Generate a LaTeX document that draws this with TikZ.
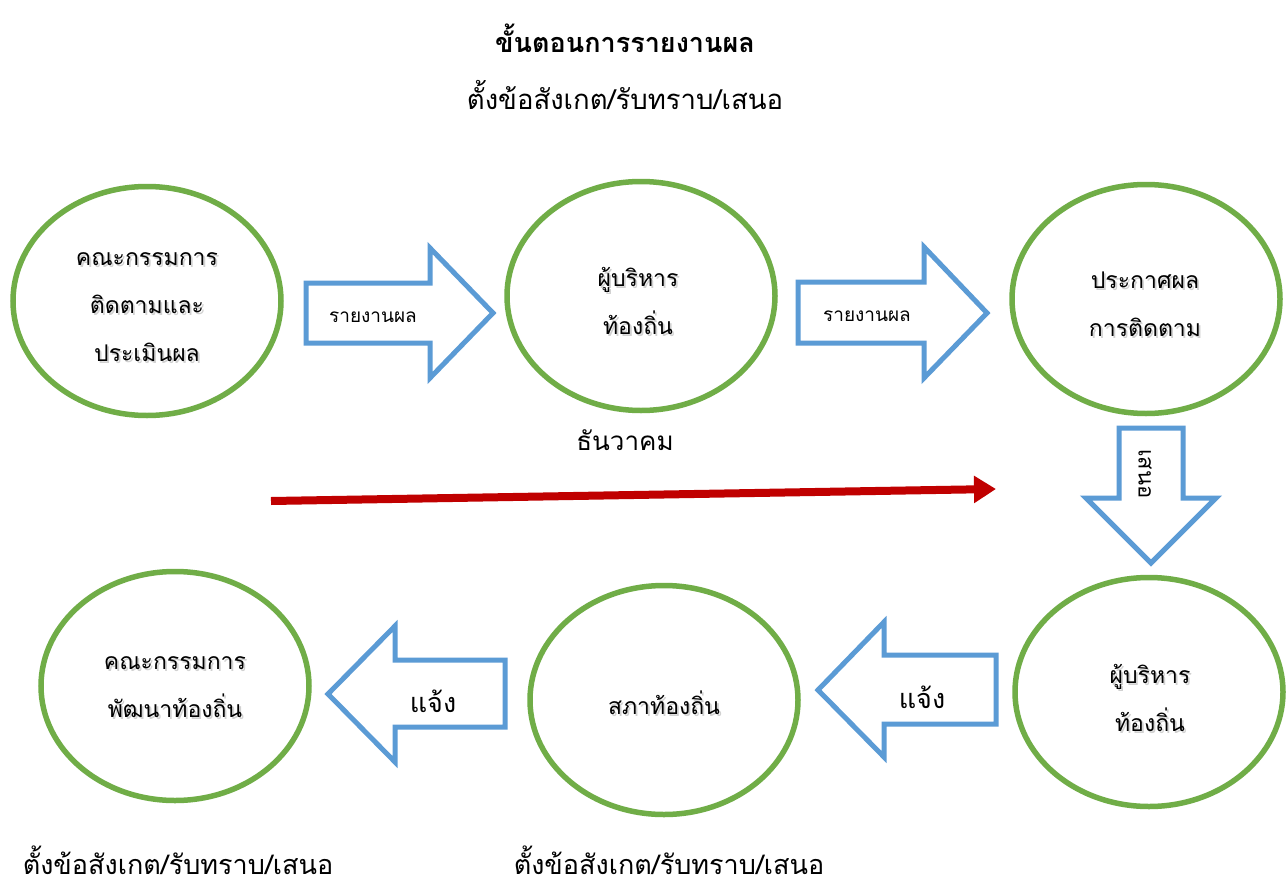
\documentclass[tikz,border=0pt]{standalone}
\usepackage{fontspec}
\setmainfont{Loma}[Script=Thai]
\usetikzlibrary{arrows.meta,calc,shapes.geometric}
\definecolor{cgreen}{HTML}{70AD47}
\definecolor{cblue}{HTML}{5B9BD5}
\definecolor{cred}{HTML}{C00000}
\newcommand\shd[1]{\leavevmode\rlap{\raisebox{-1.8pt}{\hspace{1.8pt}\textcolor{black!18}{#1}}}#1}
\begin{document}
\begin{tikzpicture}[x=1pt,y=-1pt,
  oval/.style={draw=cgreen,line width=5.5pt,ellipse,inner sep=0pt,minimum width=268pt,minimum height=229pt},
  barrow/.style={draw=cblue,line width=5pt,line join=miter,fill=white},
  ctext/.style={align=center,inner sep=0pt,font=\fontsize{23}{48}\selectfont},
  atext/.style={inner sep=0pt,font=\fontsize{19}{22}\selectfont},
  jtext/.style={inner sep=0pt,font=\fontsize{27}{30}\selectfont},
  ltext/.style={inner sep=0pt,font=\fontsize{27.5}{32}\selectfont}]
\useasboundingbox (0,0) rectangle (1287,888);
\fill[white] (0,0) rectangle (1287,888);

% titles
\node[inner sep=0pt,font=\fontsize{27}{32}\selectfont\bfseries] (title) at (625,38) {ขั้นตอนการรายงานผล};
\node[ltext] (sub) at (625,95) {ตั้งข้อสังเกต/รับทราบ/เสนอ};

% ellipses
\node[oval] (e1) at (147,301) {};
\node[oval] (e2) at (641,296) {};
\node[oval] (e3) at (1146,299) {};
\node[oval] (e4) at (1149,692) {};
\node[oval] (e5) at (664,700) {};
\node[oval] (e6) at (175,686) {};

% texts in ellipses (with soft shadow)
\node[ctext] (t1) at (147,308) {\shd{คณะกรรมการ}\\\shd{ติดตามและ}\\\shd{ประเมินผล}};
\node[ctext] (t2) at (638,302) {\shd{ผู้บริหาร}\\\shd{ท้องถิ่น}};
\node[ctext] (t3) at (1145,305) {\shd{ประกาศผล}\\\shd{การติดตาม}};
\node[ctext] (t4) at (1150,699) {\shd{ผู้บริหาร}\\\shd{ท้องถิ่น}};
\node[ctext] (t5) at (664,704) {\shd{สภาท้องถิ่น}};
\node[ctext] (t6) at (175,688) {\shd{คณะกรรมการ}\\\shd{พัฒนาท้องถิ่น}};

% block arrows
\draw[barrow] (306,283) -- (430,283) -- (430,248) -- (493,313) -- (430,378) -- (430,343) -- (306,343) -- cycle;
\node[atext] (a1) at (373,317) {รายงานผล};
\draw[barrow] (798,282) -- (924,282) -- (924,247) -- (987,313) -- (924,378) -- (924,343) -- (798,343) -- cycle;
\node[atext] (a2) at (867,316) {รายงานผล};
\draw[barrow] (1119,428) -- (1183,428) -- (1183,498) -- (1216,498) -- (1151,563) -- (1086,498) -- (1119,498) -- cycle;
\node[atext,font=\fontsize{22}{24}\selectfont,rotate=-90] (a3) at (1145,474) {เสนอ};
\draw[barrow] (996,655) -- (884,655) -- (884,622) -- (818,690) -- (884,757) -- (884,724) -- (996,724) -- cycle;
\node[jtext] (a4) at (922,697) {แจ้ง};
\draw[barrow] (505,660) -- (395,660) -- (395,626) -- (328,694) -- (395,762) -- (395,727) -- (505,727) -- cycle;
\node[jtext] (a5) at (433,701) {แจ้ง};

% time arrow
\node[ltext,font=\fontsize{26}{30}\selectfont] (month) at (625,440) {ธันวาคม};
\coordinate (rs) at (271,501);
\coordinate (re) at (996,489);
\draw[cred,line width=8pt,-{Triangle[length=22pt,width=26pt]}] (rs) -- (re);

% bottom notes
\node[ltext,font=\fontsize{27}{30}\selectfont] (n1) at (178,860) {ตั้งข้อสังเกต/รับทราบ/เสนอ};
\node[ltext,font=\fontsize{27}{30}\selectfont] (n2) at (669,860) {ตั้งข้อสังเกต/รับทราบ/เสนอ};
\end{tikzpicture}
\end{document}
